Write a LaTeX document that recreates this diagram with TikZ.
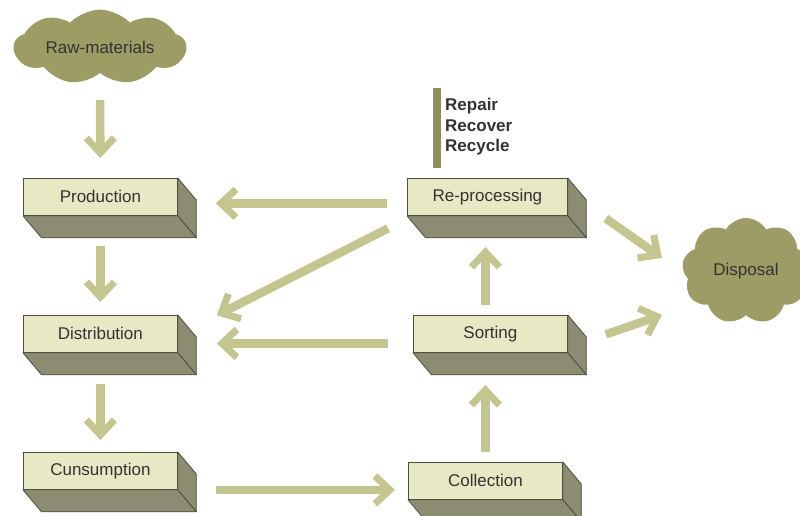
\documentclass[tikz,border=0pt]{standalone}
\usepackage{fontspec}
\setmainfont{Liberation Sans}
\usetikzlibrary{arrows.meta,calc,shapes.symbols}
\definecolor{frontc}{HTML}{E8E8C5}
\definecolor{sidec}{HTML}{8C8C72}
\definecolor{edgec}{HTML}{4E4E40}
\definecolor{arrowc}{HTML}{C5C58F}
\definecolor{cloudc}{HTML}{9C9C64}
\definecolor{textc}{HTML}{333333}
\definecolor{barc}{HTML}{8E8E5C}
\tikzset{
  frontface/.style={draw=edgec, line width=0.8pt, fill=frontc, anchor=north west,
    minimum height=37pt, inner sep=0pt, text=textc,
    font=\fontsize{17}{20}\selectfont},
  sideface/.style={draw=edgec, line width=0.8pt, fill=sidec, line join=round},
  cloudnode/.style={cloud, fill=cloudc, draw=none, text=textc, inner sep=0pt,
    font=\fontsize{17}{20}\selectfont},
  arr/.style={draw=arrowc, line width=8.5pt,
    -{Straight Barb[length=15pt,width=28pt,line width=7pt]}},
}
\newcommand\prismsides[1]{%
  \path[sideface] (#1.north east) -- ++(18.5,22) -- ($(#1.south east)+(18.5,22)$)
     -- (#1.south east) -- cycle;
  \path[sideface] (#1.south west) -- ++(18.5,22) -- ($(#1.south east)+(18.5,22)$)
     -- (#1.south east) -- cycle;
}
\begin{document}
\begin{tikzpicture}[x=1pt,y=-1pt]
\useasboundingbox (0,0) rectangle (800,515);
% clouds
\node[cloudnode, cloud puffs=9, cloud puff arc=95, aspect=2.8,
  minimum width=172pt, minimum height=64pt] (raw) at (100,47) {Raw-materials};
\node[cloudnode, cloud puffs=9, cloud puff arc=120, aspect=1.2,
  minimum width=128pt, minimum height=106pt] (disp) at (746,271) {Disposal};
% boxes
\node[frontface, minimum width=154pt] (prod) at (23,178) {Production};
\node[frontface, minimum width=154pt] (dist) at (23,315) {Distribution};
\node[frontface, minimum width=154pt] (cons) at (23,452) {Cunsumption};
\node[frontface, minimum width=160pt] (rep) at (407,178) {Re-processing};
\node[frontface, minimum width=154pt] (sort) at (413,315) {Sorting};
\node[frontface, minimum width=154pt] (coll) at (408,462) {Collection};
\prismsides{prod}
\prismsides{dist}
\prismsides{cons}
\prismsides{rep}
\prismsides{sort}
\prismsides{coll}
% bar and labels
\fill[barc] (433,88) rectangle (441,168);
\node[anchor=west, align=left, text=textc, inner sep=0pt,
  font=\fontsize{17}{20.5}\selectfont\bfseries] (rrr) at (445,127)
  {Repair\\Recover\\Recycle};
% arrows
\draw[arr] ($(raw.center)+(0,53)$) -- ($(prod.north)+(0,-20)$);
\draw[arr] ($(prod.south)+(0,30)$) -- ($(dist.north)+(0,-13)$);
\draw[arr] ($(dist.south)+(0,31)$) -- ($(cons.north)+(0,-12)$);
\draw[arr] ($(cons.east)+(38,19)$) -- ($(coll.west)+(-13,9)$);
\draw[arr] ($(coll.north)+(0,-10)$) -- ($(coll.north)+(0,-77)$);
\draw[arr] ($(sort.north)+(-5,-10)$) -- ($(sort.north)+(-5,-68)$);
\draw[arr] ($(rep.west)+(-20,6.5)$) -- ($(prod.east)+(38,6.5)$);
\draw[arr] ($(rep.west)+(-19,31.5)$) -- ($(dist.east)+(39,-18.5)$);
\draw[arr] ($(sort.west)+(-25,9.5)$) -- ($(dist.east)+(39,9.5)$);
\draw[arr] ($(rep.east)+(38,21.5)$) -- ($(disp.center)+(-84,-13)$);
\draw[arr] ($(sort.east)+(38,0.5)$) -- ($(disp.center)+(-84,44)$);
\end{tikzpicture}
\end{document}
